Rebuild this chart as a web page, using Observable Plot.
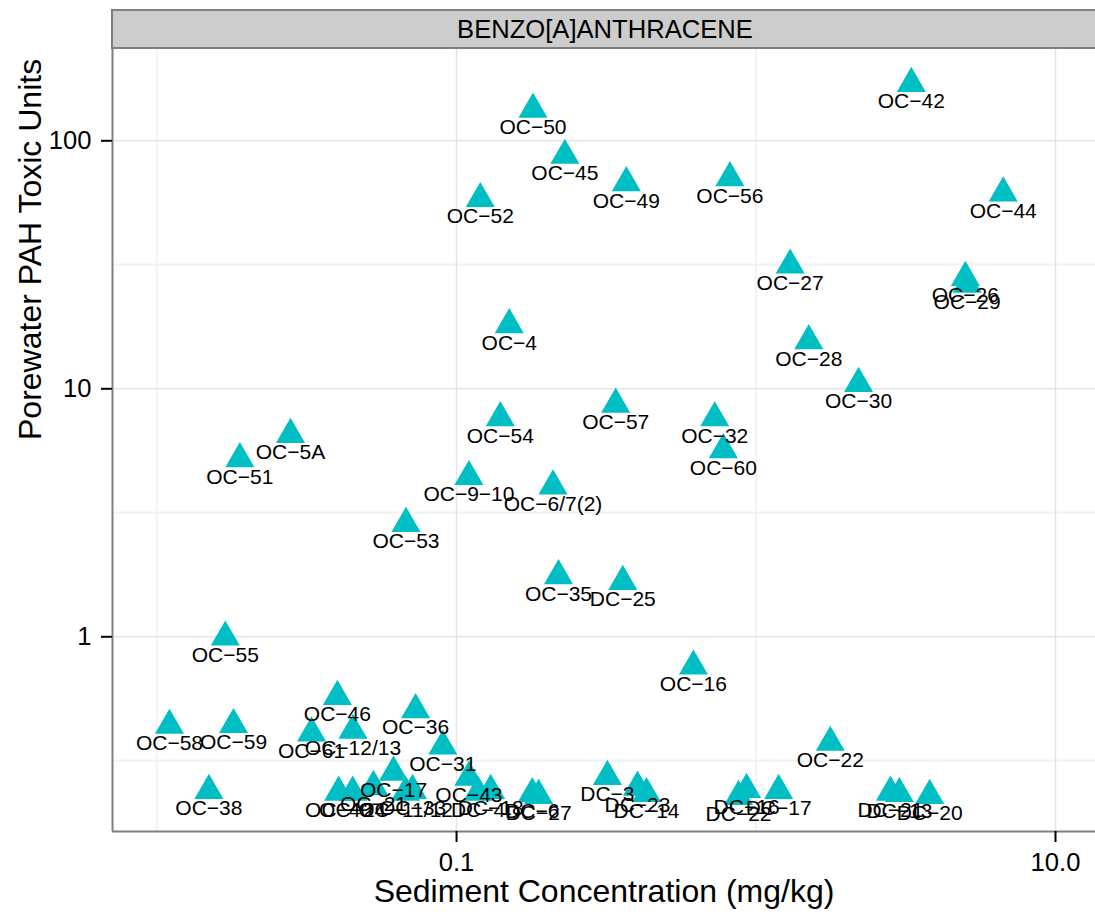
<!DOCTYPE html>
<html>
<head>
<meta charset="utf-8">
<script src="https://cdn.jsdelivr.net/npm/d3@7"></script>
<script src="https://cdn.jsdelivr.net/npm/@observablehq/plot@0.6"></script>
<style>
html, body { margin: 0; padding: 0; background: #ffffff; overflow: hidden; }
#wrap { position: relative; width: 1095px; height: 914px; overflow: hidden;
  font-family: "Liberation Sans", Arial, Helvetica, sans-serif; }
#wrap svg { position: absolute; left: 0; top: 0; }
#strip { position: absolute; left: 111px; top: 9px; width: 988px; height: 40px;
  box-sizing: border-box; border: 2px solid #7f7f7f; background: #cccccc; color: #000;
  font-size: 25.6px; display: flex; align-items: center; justify-content: center; z-index: 2; }
</style>
</head>
<body>
<div id="wrap"><div id="strip"></div></div>
<script>
const panelTitle = "BENZO[A]ANTHRACENE";

const sites = [
  "OC−42", "OC−50", "OC−45", "OC−52", "OC−49", "OC−56", "OC−44", "OC−27", "OC−26", "OC−29",
  "OC−4", "OC−28", "OC−30", "OC−57", "OC−32", "OC−60", "OC−54", "OC−5A", "OC−51", "OC−9−10",
  "OC−6/7(2)", "OC−53", "OC−35", "DC−25", "OC−55", "OC−16", "OC−58", "OC−59", "OC−46", "OC−61",
  "OC−12/13", "OC−36", "OC−31", "OC−22", "OC−38", "OC−40", "OC−24", "OC−21", "OC−17", "OC−11/12",
  "OC−33", "OC−43", "DC−4", "DC−18", "DC−6", "DC−27", "DC−3", "DC−23", "DC−14", "DC−22",
  "DC−16", "DC−17", "DC−21", "DC−13", "DC−20"
];

// Sediment concentration (mg/kg)
const sediment = [
  3.30, 0.180, 0.230, 0.120, 0.369, 0.818, 6.69, 1.30, 5.00, 5.07,
  0.150, 1.50, 2.20, 0.340, 0.728, 0.778, 0.140, 0.0279, 0.0189, 0.110,
  0.210, 0.0678, 0.219, 0.359, 0.0169, 0.618, 0.0110, 0.0180, 0.0400, 0.0328,
  0.0451, 0.0730, 0.0900, 1.77, 0.0149, 0.0404, 0.0450, 0.0528, 0.0616, 0.0676,
  0.0713, 0.110, 0.118, 0.130, 0.179, 0.188, 0.319, 0.402, 0.431, 0.874,
  0.930, 1.19, 2.81, 3.01, 3.80
];

// Porewater PAH toxic units
const toxicUnits = [
  170, 134, 87.3, 58.4, 67.7, 70.9, 61.5, 31.5, 28.1, 26.4,
  18.1, 15.6, 10.5, 8.65, 7.63, 5.67, 7.64, 6.54, 5.22, 4.42,
  4.05, 2.86, 1.76, 1.67, 0.996, 0.761, 0.439, 0.442, 0.574, 0.409,
  0.419, 0.508, 0.362, 0.375, 0.240, 0.236, 0.236, 0.249, 0.284, 0.236,
  0.240, 0.271, 0.236, 0.240, 0.233, 0.229, 0.273, 0.247, 0.233, 0.227,
  0.242, 0.240, 0.236, 0.233, 0.229
];

const xTicks = [0.1, 10];
const xTickLabels = ["0.1", "10.0"];
const xMinor = [0.01, 1];
const yTicks = [1, 10, 100];
const yTickLabels = ["1", "10", "100"];
const yMinor = [0.3162, 3.162, 31.62];
const xTitle = "Sediment Concentration (mg/kg)";
const yTitle = "Porewater PAH Toxic Units";
const xDomain = [0.0071, 13.6];
const yDomain = [0.164, 235.6];

const data = sites.map((s, i) => ({site: s, x: sediment[i], y: toxicUnits[i]}));

document.getElementById("strip").textContent = panelTitle;

const chart = Plot.plot({
  width: 1095,
  height: 914,
  marginLeft: 112,
  marginRight: 0,
  marginTop: 48,
  marginBottom: 83,
  style: {
    fontFamily: "'Liberation Sans', Arial, Helvetica, sans-serif",
    fontSize: "25.6px",
    background: "#ffffff",
    color: "#000000",
    overflow: "visible"
  },
  x: {type: "log", domain: xDomain},
  y: {type: "log", domain: yDomain},
  marks: [
    Plot.ruleX(xMinor, {stroke: "#f4f4f4", strokeWidth: 2.5}),
    Plot.ruleY(yMinor, {stroke: "#f4f4f4", strokeWidth: 2.5}),
    Plot.ruleX(xTicks, {stroke: "#e5e5e5", strokeWidth: 1.5}),
    Plot.ruleY(yTicks, {stroke: "#e5e5e5", strokeWidth: 1.5}),
    Plot.ruleX([xDomain[0]], {stroke: "#7f7f7f", strokeWidth: 2}),
    Plot.ruleY([yDomain[0]], {stroke: "#7f7f7f", strokeWidth: 2}),
    Plot.axisX(xTicks, {
      tickSize: 11, tickPadding: 10, strokeWidth: 2, label: null,
      tickFormat: (d) => xTickLabels[xTicks.indexOf(d)]
    }),
    Plot.axisY(yTicks, {
      tickSize: 11, tickPadding: 10, strokeWidth: 2, label: null,
      tickFormat: (d) => yTickLabels[yTicks.indexOf(d)]
    }),
    Plot.dot(data, {x: "x", y: "y", symbol: "triangle", r: 10.8, fill: "#00BFC4"}),
    Plot.text(data, {x: "x", y: "y", text: "site", dy: 18, fontSize: 21, fill: "#000000", lineAnchor: "middle"}),
    Plot.text([xTitle], {text: (d) => d, frameAnchor: "bottom", lineAnchor: "bottom", dy: 70.5, fontSize: 32, fill: "#000000"}),
    Plot.text([yTitle], {text: (d) => d, frameAnchor: "left", lineAnchor: "middle", dx: -82, rotate: -90, fontSize: 32, fill: "#000000"})
  ]
});

document.getElementById("wrap").insertBefore(chart, document.getElementById("strip"));
</script>
</body>
</html>
